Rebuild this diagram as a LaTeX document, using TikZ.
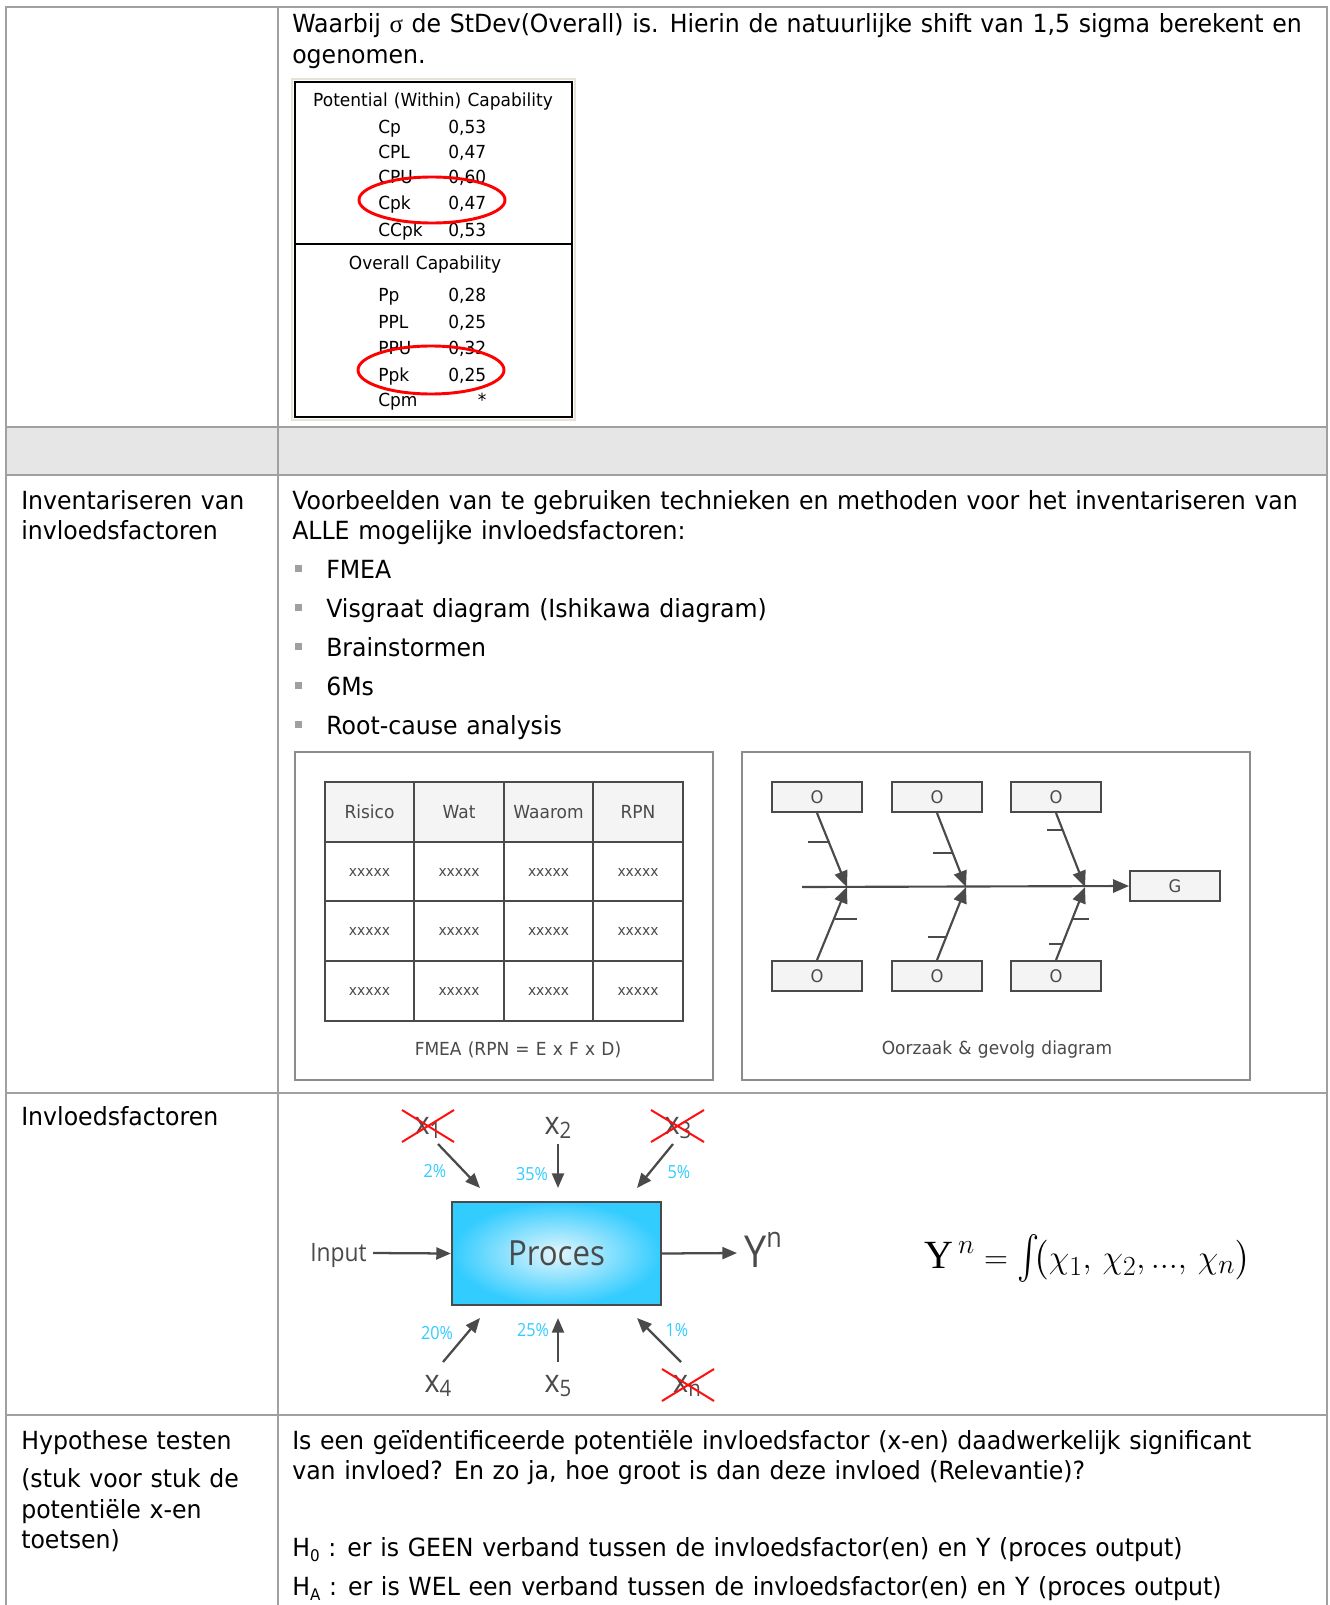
\documentclass[tikz,border=0pt]{standalone}
\usepackage[no-math]{fontspec}
\usepackage{exscale}
\usepackage{graphicx}
\setmainfont[FakeStretch=0.945, WordSpace=1.15]{DejaVu Sans}
\newfontfamily\osf[FakeStretch=0.9]{Open Sans}
\newfontfamily\serifY{Liberation Serif}
\usetikzlibrary{arrows.meta}
\definecolor{gridgray}{HTML}{A0A0A0}
\definecolor{rowgray}{HTML}{E6E6E6}
\definecolor{dgray}{HTML}{4A4A4A}
\definecolor{boxfill}{HTML}{F4F4F4}
\definecolor{framegray}{HTML}{8C8C8C}
\definecolor{beigeframe}{HTML}{E6E2DA}
\definecolor{pcyan}{HTML}{33CCFF}
\definecolor{plight}{HTML}{E4F6FD}
\definecolor{redx}{HTML}{FF1010}
\newcommand{\fs}[1]{\fontsize{#1}{#1}\selectfont}
\begin{document}
\begin{tikzpicture}[x=0.75pt,y=-0.75pt,
  txt/.style={inner sep=0pt, anchor=base west, font=\fs{18.75}},
  captxt/.style={inner sep=0pt, anchor=base west, font=\fs{13.5}},
  tablegrid/.style={draw=gridgray, line width=2.2pt},
  fishbox/.style={draw=dgray, fill=boxfill, line width=1.5pt, minimum width=67.5pt, minimum height=22.5pt, inner sep=0pt, text=dgray, font=\fs{13}},
  fisharrow/.style={draw=dgray, line width=1.6pt, -{Triangle[length=12pt,width=10pt]}},
  fishtick/.style={draw=dgray, line width=0.9pt},
  fmeatxt/.style={inner sep=0pt, text=dgray, font=\fs{13.5}},
  fmeax/.style={inner sep=0pt, text=dgray, font=\fs{11}},
  procarrow/.style={draw=dgray, line width=1.7pt, -{Triangle[length=11pt,width=9pt]}},
  xlab/.style={inner sep=0pt, anchor=base, text=dgray, font=\osf\fs{24}},
  pct/.style={inner sep=0pt, text=pcyan, font=\osf\fs{13.5}},
  redcross/.style={draw=redx, line width=1.5pt},
  bulletsq/.style={fill=gridgray, minimum size=5.25pt, inner sep=0pt}
]
\useasboundingbox (0,0) rectangle (1330,1605);
\fill[white] (0,0) rectangle (1330,1605);

% ---------- table frame ----------
\fill[rowgray] (6,427) rectangle (1327,475);
\draw[tablegrid] (6,1605) -- (6,7) -- (1327,7) -- (1327,1605);
\draw[tablegrid] (278,7) -- (278,1605);
\foreach \yy in {427,475,1093,1415} \draw[tablegrid] (6,\yy) -- (1327,\yy);

% ---------- row 1 ----------
\node[txt] (r1a) at (292,33) {Waarbij {\serifY σ} de StDev(Overall) is. Hierin de natuurlijke shift van 1,5 sigma berekent en};
\node[txt] (r1b) at (292,64) {ogenomen.};

\draw[beigeframe, line width=2pt] (292,79) rectangle (575,420);
\draw[black, line width=1.3pt] (295,82) rectangle (572,417);
\draw[black, line width=1.1pt] (295,244) -- (572,244);
\node[captxt, anchor=base] (pwc) at (433,106.5) {Potential (Within) Capability};
\node[captxt] (l1) at (378,133.5) {Cp};   \node[captxt] (v1) at (448,133.5) {0,53};
\node[captxt] (l2) at (378,158.5) {CPL};  \node[captxt] (v2) at (448,158.5) {0,47};
\node[captxt] (l3) at (378,183.5) {CPU};  \node[captxt] (v3) at (448,183.5) {0,60};
\node[captxt] (l4) at (378,209.5) {Cpk};  \node[captxt] (v4) at (448,209.5) {0,47};
\node[captxt] (l5) at (378,236.5) {CCpk}; \node[captxt] (v5) at (448,236.5) {0,53};
\node[captxt, anchor=base] (ovc) at (425,269.5) {Overall Capability};
\node[captxt] (m1) at (378,301.5) {Pp};   \node[captxt] (w1) at (448,301.5) {0,28};
\node[captxt] (m2) at (378,328.5) {PPL};  \node[captxt] (w2) at (448,328.5) {0,25};
\node[captxt] (m3) at (378,354.5) {PPU};  \node[captxt] (w3) at (448,354.5) {0,32};
\node[captxt] (m4) at (378,381.5) {Ppk};  \node[captxt] (w4) at (448,381.5) {0,25};
\node[captxt] (m5) at (378,406.5) {Cpm};  \node[captxt, anchor=base] (w5) at (482,406.5) {*};
\draw[red, line width=2.2pt] (432,200) ellipse [x radius=73, y radius=23];
\draw[red, line width=2.2pt] (431,370) ellipse [x radius=73, y radius=24];

% ---------- row 3 ----------
\node[txt] (inv1) at (21,509) {Inventariseren van};
\node[txt] (inv2) at (21,539) {invloedsfactoren};
\node[txt] (vb1) at (292,509) {Voorbeelden van te gebruiken technieken en methoden voor het inventariseren van};
\node[txt] (vb2) at (292,539) {ALLE mogelijke invloedsfactoren:};
\node[bulletsq] (b1) at (298.5,568.5) {};
\node[bulletsq] (b2) at (298.5,607.5) {};
\node[bulletsq] (b3) at (298.5,646.5) {};
\node[bulletsq] (b4) at (298.5,685.5) {};
\node[bulletsq] (b5) at (298.5,724.5) {};
\node[txt] (t1) at (326,578) {FMEA};
\node[txt] (t2) at (326,617) {Visgraat diagram (Ishikawa diagram)};
\node[txt] (t3) at (326,656) {Brainstormen};
\node[txt] (t4) at (326,695) {6Ms};
\node[txt] (t5) at (326,734) {Root-cause analysis};

% FMEA box
\draw[framegray, line width=1.1pt] (295,752) rectangle (713,1080);
\fill[boxfill] (325,782) rectangle (683,842);
\draw[dgray, line width=1.0pt] (325,782) rectangle (683,1021);
\foreach \xx in {414,504,593} \draw[dgray, line width=1.0pt] (\xx,782) -- (\xx,1021);
\foreach \yy in {842,901,961} \draw[dgray, line width=1.0pt] (325,\yy) -- (683,\yy);
\node[fmeatxt] (h1) at (369.5,812) {Risico};
\node[fmeatxt] (h2) at (459,812) {Wat};
\node[fmeatxt] (h3) at (548.5,812) {Waarom};
\node[fmeatxt] (h4) at (638,812) {RPN};
\foreach \yy/\rr in {872/a,931/b,991/c}{
  \node[fmeax] (x1\rr) at (369.5,\yy) {xxxxx};
  \node[fmeax] (x2\rr) at (459,\yy) {xxxxx};
  \node[fmeax] (x3\rr) at (548.5,\yy) {xxxxx};
  \node[fmeax] (x4\rr) at (638,\yy) {xxxxx};
}
\node[fmeatxt] (fcap) at (518,1050) {FMEA (RPN = E x F x D)};

% Fishbone box
\draw[framegray, line width=1.1pt] (742,752) rectangle (1250,1080);
\node[fishbox] (o1) at (817,797) {O};
\node[fishbox] (o2) at (937,797) {O};
\node[fishbox] (o3) at (1056,797) {O};
\node[fishbox] (o4) at (817,976) {O};
\node[fishbox] (o5) at (937,976) {O};
\node[fishbox] (o6) at (1056,976) {O};
\node[fishbox] (g) at (1175,886) {G};
\coordinate (sp0) at (802,887);
\coordinate (j1) at (847,887);
\coordinate (j2) at (966,887);
\coordinate (j3) at (1085,887);
\draw[fisharrow] (sp0) -- (g.west);
\draw[fisharrow] (o1.south) -- (j1);
\draw[fisharrow] (o2.south) -- (j2);
\draw[fisharrow] (o3.south) -- (j3);
\draw[fisharrow] (o4.north) -- (j1);
\draw[fisharrow] (o5.north) -- (j2);
\draw[fisharrow] (o6.north) -- (j3);
\draw[fishtick] (808,842) -- (829.5,842);
\draw[fishtick] (933,853) -- (953,853);
\draw[fishtick] (1047,830) -- (1063,830);
\draw[fishtick] (834.5,919) -- (857,919);
\draw[fishtick] (928,937) -- (946,937);
\draw[fishtick] (1072.5,919) -- (1089,919);
\draw[fishtick] (1049,944) -- (1062.7,944);
\node[fmeatxt] (ocap) at (997,1050) {Oorzaak \& gevolg diagram};

% ---------- row 4 ----------
\node[txt] (ivf) at (21,1125) {Invloedsfactoren};

\node[draw=dgray, line width=1.6pt, inner color=plight, outer color=pcyan,
      minimum width=156.75pt, minimum height=77.25pt, inner sep=0pt,
      text=dgray, font=\osf\fs{26}] (proc) at (556.5,1253.5) {Proces};
\node[inner sep=0pt, anchor=base east, text=dgray, font=\osf\fs{19}] (inp) at (367,1261) {Input};
\node[inner sep=0pt, anchor=base west, text=dgray, font=\osf\fs{33}] (yn) at (744,1267) {Y\raisebox{15pt}{\fs{21}n}};
\coordinate (yout) at (737,1253);
\coordinate (inpe) at (373,1253);
\draw[procarrow] (inpe) -- (proc.west);
\draw[procarrow] (proc.east) -- (yout);

\node[xlab] (x1) at (428,1134) {x\raisebox{-3pt}{\fs{17}1}};
\node[xlab] (x2) at (558,1134) {x\raisebox{-3pt}{\fs{17}2}};
\node[xlab] (x3) at (678,1134) {x\raisebox{-3pt}{\fs{17}3}};
\node[xlab] (x4) at (438,1392) {x\raisebox{-3pt}{\fs{17}4}};
\node[xlab] (x5) at (558,1392) {x\raisebox{-3pt}{\fs{17}5}};
\node[xlab] (xn) at (687,1392) {x\raisebox{-3pt}{\fs{17}n}};

\coordinate (a1s) at (438,1144); \coordinate (a1e) at (480,1188);
\coordinate (a2s) at (558,1144); \coordinate (a2e) at (558,1188);
\coordinate (a3s) at (673,1144); \coordinate (a3e) at (637,1188);
\coordinate (a4s) at (443,1362); \coordinate (a4e) at (480,1318);
\coordinate (a5s) at (558,1362); \coordinate (a5e) at (558,1318);
\coordinate (a6s) at (681,1362); \coordinate (a6e) at (637,1318);
\foreach \k in {1,...,6} \draw[procarrow] (a\k s) -- (a\k e);

\draw[redcross] (402,1110) -- (454,1142);
\draw[redcross] (402,1142) -- (454,1110);
\draw[redcross] (651,1110) -- (704,1142);
\draw[redcross] (651,1142) -- (704,1110);
\draw[redcross] (662,1369) -- (714,1401);
\draw[redcross] (662,1401) -- (714,1369);

\node[pct] (p1) at (435,1171) {2\%};
\node[pct] (p2) at (532,1174) {35\%};
\node[pct] (p3) at (679,1172) {5\%};
\node[pct] (p4) at (437,1333) {20\%};
\node[pct] (p5) at (533,1330) {25\%};
\node[pct] (p6) at (677,1330) {1\%};

\node[inner sep=0pt, font=\fs{30}] (formula) at (1087.5,1258)
  {$\hbox{\serifY Y}^{\,n} = \scalebox{1}[1.3]{$\int$}\!\big(\chi_1,\,\chi_2,{.}{.}{.},\,\chi_n\big)$};

% ---------- row 5 ----------
\node[txt] (hy1) at (21,1449) {Hypothese testen};
\node[txt] (hy2) at (21,1487) {(stuk voor stuk de};
\node[txt] (hy3) at (21,1518) {potentiële x-en};
\node[txt] (hy4) at (21,1548) {toetsen)};
\node[txt] (q1) at (292,1449) {Is een geïdentificeerde potentiële invloedsfactor (x-en) daadwerkelijk significant};
\node[txt] (q2) at (292,1479) {van invloed? En zo ja, hoe groot is dan deze invloed (Relevantie)?};
\node[txt] (h0) at (292,1556) {H\raisebox{-4pt}{\fs{12}0} : er is GEEN verband tussen de invloedsfactor(en) en Y (proces output)};
\node[txt] (ha) at (292,1595) {H\raisebox{-4pt}{\fs{12}A} : er is WEL een verband tussen de invloedsfactor(en) en Y (proces output)};
\end{tikzpicture}
\end{document}
